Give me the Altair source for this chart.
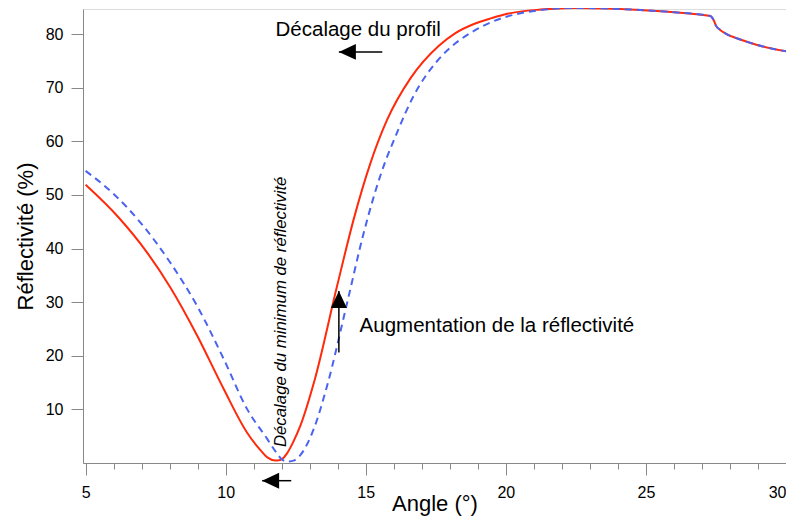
import altair as alt
import pandas as pd

# ---- data ----
angle_red = [5.0, 6.18, 7.19, 8.02, 8.98, 9.93, 10.76, 11.24, 11.5, 11.78, 11.9, 12.02, 12.19,
             12.4, 12.67, 13.15, 13.98, 14.57, 15.17, 15.76, 16.6, 17.6, 18.2, 18.86, 19.5,
             20.05, 21.24, 22.43, 23.62, 24.81, 26.0, 27.3, 27.42, 27.5, 27.65, 27.85, 28.37,
             28.97, 30.0]
refl_red = [51.9, 45.8, 39.3, 32.8, 23.8, 13.8, 5.7, 2.4, 1.0, 0.45, 0.5, 0.75, 1.8,
            3.8, 7.0, 15.0, 33.1, 45.5, 56.0, 64.0, 71.8, 77.8, 80.2, 81.9, 83.0,
            83.8, 84.6, 84.9, 84.8, 84.5, 84.1, 83.4, 82.6, 81.6, 80.8, 80.1, 79.0,
            78.0, 76.8]

angle_blue = [5.0, 6.0, 6.95, 8.02, 8.98, 9.93, 10.76, 11.48, 11.8, 12.0, 12.2, 12.45, 12.67,
              13.14, 13.62, 14.34, 14.93, 15.52, 16.12, 16.71, 17.55, 18.2, 18.86, 19.5, 20.05,
              21.24, 22.43, 23.62, 24.81, 26.0, 27.3, 27.42, 27.5, 27.65, 27.85, 28.37, 28.97,
              30.0]
refl_blue = [54.5, 50.2, 44.9, 37.4, 29.3, 19.4, 10.1, 4.5, 2.0, 0.7, 0.25, 0.5, 1.5,
             6.3, 14.4, 30.0, 43.0, 53.6, 61.7, 68.5, 75.0, 78.3, 80.6, 82.3, 83.3,
             84.5, 84.9, 84.8, 84.5, 84.1, 83.4, 82.6, 81.6, 80.8, 80.1, 79.0, 78.0,
             76.8]

x_major = [5, 10, 15, 20, 25, 30]
x_minor = [v for v in range(5, 31) if v % 5 != 0]
y_ticks = [10, 20, 30, 40, 50, 60, 70, 80]

# annotations (data coordinates)
ann_text = ["Décalage du profil", "Augmentation de la réflectivité"]
ann_x = [11.78, 14.78]
ann_y = [79.7, 24.4]

rot_text = ["Décalage du minimum de réflectivité"]
rot_x = [11.99]
rot_y = [28.2]

# arrows: tail -> tip
arr_left_x = [15.59, 12.34]
arr_left_tip = [14.04, 11.30]
arr_left_y = [76.7, -3.3]
arr_up_x = [14.04]
arr_up_y = [20.6]
arr_up_tip = [32.1]

FONT = "Liberation Sans"

red_df = pd.DataFrame({"angle": angle_red, "value": refl_red})
blue_df = pd.DataFrame({"angle": angle_blue, "value": refl_blue})
ann_df = pd.DataFrame({"angle": ann_x, "value": ann_y, "text": ann_text})
rot_df = pd.DataFrame({"angle": rot_x, "value": rot_y, "text": rot_text})
left_df = pd.DataFrame({"angle": arr_left_x, "angle2": arr_left_tip, "value": arr_left_y})
up_df = pd.DataFrame({"angle": arr_up_x, "value": arr_up_y, "value2": arr_up_tip})

x_scale = alt.Scale(domain=[4.907, 30], nice=False, zero=False)
y_scale = alt.Scale(domain=[0, 84.7], nice=False, zero=False)

x_axis = alt.Axis(
    title="Angle (°)", values=x_major, grid=False, tickSize=12,
    labelFontSize=16, titleFontSize=22, labelPadding=9,
    titleFontWeight="normal", labelFlush=False, labelOverlap=False,
    labelAlign={"condition": {"test": "datum.value >= 30", "value": "right"}, "value": "center"},
    titleBaseline="alphabetic", titleY=47,
)
x_axis_minor = alt.Axis(
    title=None, values=x_minor, grid=False, tickSize=6, labels=False, domain=False,
    orient="bottom",
)
y_axis = alt.Axis(
    title="Réflectivité (%)", values=y_ticks, grid=False, tickSize=12,
    labelFontSize=16, titleFontSize=22, labelPadding=8, titlePadding=8,
    titleFontWeight="normal",
)

red = alt.Chart(red_df).mark_line(color="#ff2a0c", strokeWidth=2, interpolate="monotone").encode(
    x=alt.X("angle:Q", scale=x_scale, axis=x_axis),
    y=alt.Y("value:Q", scale=y_scale, axis=y_axis),
)
blue = alt.Chart(blue_df).mark_line(color="#4a63f0", strokeWidth=2, strokeDash=[7, 5],
                                     interpolate="monotone").encode(
    x=alt.X("angle:Q", axis=x_axis_minor), y="value:Q",
)

texts = alt.Chart(ann_df).mark_text(align="left", baseline="alphabetic", font=FONT,
                                     fontSize=20.5, color="black").encode(
    x=alt.X("angle:Q", axis=None), y="value:Q", text="text:N")

rot = alt.Chart(rot_df).mark_text(align="center", baseline="middle", font=FONT, fontSize=16.8,
                                   fontStyle="italic", angle=270, color="black").encode(
    x=alt.X("angle:Q", axis=None), y="value:Q", text="text:N")

left_rules = alt.Chart(left_df).mark_rule(color="black", strokeWidth=1.5).encode(
    x=alt.X("angle:Q", axis=None), x2="angle2:Q", y="value:Q")
left_heads = alt.Chart(left_df).mark_point(
    shape="M0,0L2,-0.94L2,0.94Z", size=289, filled=True, color="black", opacity=1, strokeWidth=0
).encode(x=alt.X("angle2:Q", axis=None), y="value:Q")

up_rules = alt.Chart(up_df).mark_rule(color="black", strokeWidth=1.5).encode(
    x=alt.X("angle:Q", axis=None), y="value:Q", y2="value2:Q")
up_heads = alt.Chart(up_df).mark_point(
    shape="M0,0L-0.94,2L0.94,2Z", size=289, filled=True, color="black", opacity=1, strokeWidth=0
).encode(x=alt.X("angle:Q", axis=None), y="value2:Q")

chart = alt.layer(red, blue, texts, rot, left_rules, left_heads, up_rules, up_heads).resolve_axis(
    x="independent"
).properties(
    width=703, height=454,
    autosize=alt.AutoSizeParams(type="none"),
    padding={"left": 75, "top": 1, "right": 0, "bottom": 53},
).configure_view(stroke=None).configure_axis(
    domainColor="black", domainWidth=1.5, tickColor="black", tickWidth=1.5,
    labelColor="black", titleColor="black", labelFont=FONT, titleFont=FONT,
).configure(background="white")

chart.save("out.html", embed_options={"renderer": "svg", "actions": False})
